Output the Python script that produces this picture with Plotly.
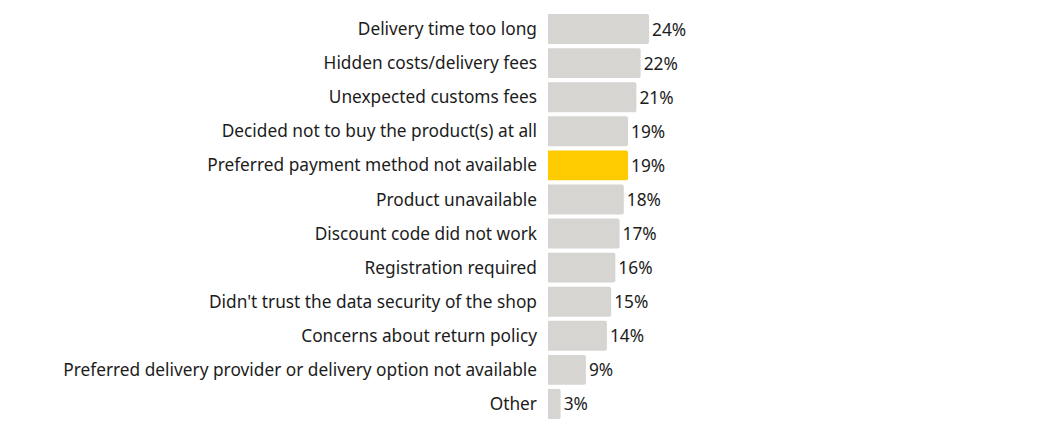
import plotly.graph_objects as go

categories = [
    "Delivery time too long",
    "Hidden costs/delivery fees",
    "Unexpected customs fees",
    "Decided not to buy the product(s) at all",
    "Preferred payment method not available",
    "Product unavailable",
    "Discount code did not work",
    "Registration required",
    "Didn't trust the data security of the shop",
    "Concerns about return policy",
    "Preferred delivery provider or delivery option not available",
    "Other",
]
values = [24, 22, 21, 19, 19, 18, 17, 16, 15, 14, 9, 3]
highlight = "Preferred payment method not available"

GRAY = "#d6d5d2"
YELLOW = "#fdcb00"
colors = [YELLOW if c == highlight else GRAY for c in categories]

fig = go.Figure(go.Bar(
    x=values,
    y=categories,
    orientation="h",
    marker=dict(color=colors, line=dict(width=0)),
    text=[f"{v}%" for v in values],
    textposition="outside",
    textfont=dict(family="Noto Sans", size=17.3, color="#1c1c1c"),
    cliponaxis=False,
))

fig.update_layout(
    width=1063,
    height=426,
    margin=dict(l=540, r=102, t=4, b=13),
    paper_bgcolor="white",
    plot_bgcolor="white",
    bargap=0.12,
    barcornerradius=2,
    showlegend=False,
    font=dict(family="Noto Sans", size=17.3, color="#1c1c1c"),
    xaxis=dict(range=[0, 100], visible=False, fixedrange=True),
    yaxis=dict(
        autorange="reversed",
        showgrid=False,
        zeroline=False,
        showline=False,
        ticks="",
        ticklabelstandoff=10,
        tickfont=dict(family="Noto Sans", size=17.3, color="#1c1c1c"),
    ),
)

fig.write_html("out.html")
